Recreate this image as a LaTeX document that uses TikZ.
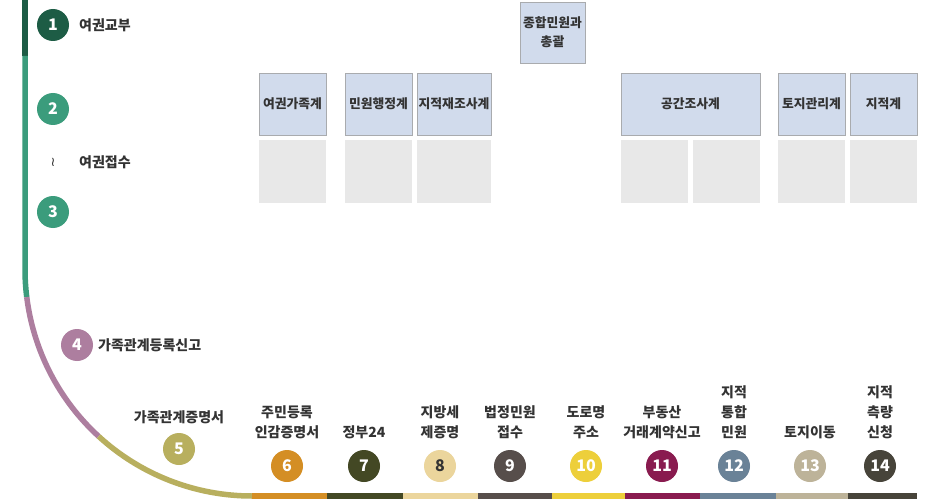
\documentclass[tikz,border=0pt]{standalone}
\usepackage{fontspec}
\setmainfont{Noto Sans CJK KR}
\newfontfamily\dvfont{DejaVu Sans}
\definecolor{cA}{HTML}{1D5C45}
\definecolor{cB}{HTML}{3B9C7C}
\definecolor{cC}{HTML}{AD7E9F}
\definecolor{cD}{HTML}{B8AF5E}
\definecolor{cE}{HTML}{D48E24}
\definecolor{cF}{HTML}{434824}
\definecolor{cG}{HTML}{EBD59C}
\definecolor{cH}{HTML}{574E4B}
\definecolor{cI}{HTML}{EDCF3B}
\definecolor{cJ}{HTML}{891B4F}
\definecolor{cK}{HTML}{6A8297}
\definecolor{cL}{HTML}{BDB399}
\definecolor{cM}{HTML}{47443A}
\definecolor{txt}{HTML}{333333}
\definecolor{boxfill}{HTML}{D1DBEC}
\definecolor{boxline}{HTML}{A9ABAE}
\definecolor{greyfill}{HTML}{E8E8E8}
\tikzset{
  num/.style={circle, fill=#1, minimum size=32pt, inner sep=0pt, text=white,
    font=\fontsize{16}{16}\selectfont\bfseries},
  lbl/.style={anchor=west, inner sep=0pt, text=txt, font=\fontsize{14}{16}\selectfont\bfseries},
  blbl/.style={anchor=south, inner sep=0pt, align=center, text depth=0pt, text=txt,
    font=\fontsize{14}{20}\selectfont\bfseries},
  team/.style={draw=boxline, line width=0.8pt, fill=boxfill, inner sep=0pt, align=center,
    text=txt, font=\fontsize{12.8}{19}\selectfont\bfseries},
  greybox/.style={fill=greyfill, inner sep=0pt},
  track/.style={line width=5.5pt},
  seg/.style={line width=6pt}
}
\begin{document}
\begin{tikzpicture}[x=1pt,y=1pt]
\useasboundingbox (0,0) rectangle (940,-500);
\fill[white] (0,0) rectangle (940,-500);
% left track
\coordinate (t0) at (25,0);
\coordinate (t1) at (25,-56);
\coordinate (t2) at (25,-269);
\draw[track, cA] (t0) -- (t1);
\draw[track, cB] (t1) -- (t2) arc[start angle=180, end angle=187.1, radius=227] coordinate (t3);
\draw[track, cC] (t3) arc[start angle=187.1, end angle=227.5, radius=227] coordinate (t4);
\draw[track, cD] (t4) arc[start angle=227.5, end angle=270, radius=227] coordinate (b0);
% bottom bar
\coordinate (b1) at (327,-496);
\coordinate (b2) at (403,-496);
\coordinate (b3) at (478,-496);
\coordinate (b4) at (552,-496);
\coordinate (b5) at (625,-496);
\coordinate (b6) at (700,-496);
\coordinate (b7) at (776,-496);
\coordinate (b8) at (848,-496);
\coordinate (b9) at (917,-496);
\draw[seg, cE] (b0) -- (b1);
\draw[seg, cF] (b1) -- (b2);
\draw[seg, cG] (b2) -- (b3);
\draw[seg, cH] (b3) -- (b4);
\draw[seg, cI] (b4) -- (b5);
\draw[seg, cJ] (b5) -- (b6);
\draw[seg, cK] (b6) -- (b7);
\draw[seg, cL] (b7) -- (b8);
\draw[seg, cM] (b8) -- (b9);
% steps on the left
\node[num=cA] (n1) at (53,-25) {1};
\node[lbl] (l1) at (79,-25) {여권교부};
\node[num=cB] (n2) at (53,-109) {2};
\node[inner sep=0pt, text=txt, font=\dvfont\fontsize{13}{13}\selectfont] (tl) at (53,-162) {≀};
\node[lbl] (l2) at (79,-162) {여권접수};
\node[num=cB] (n3) at (53,-212) {3};
\node[num=cC] (n4) at (77,-345) {4};
\node[lbl] (l4) at (98,-345) {가족관계등록신고};
\node[num=cD] (n5) at (179,-449) {5};
\node[blbl] (l5) at (179,-423) {가족관계증명서};
% bottom steps
\node[num=cE] (n6) at (287,-466) {6};
\node[num=cF] (n7) at (364,-466) {7};
\node[num=cG, text=txt] (n8) at (440,-466) {8};
\node[num=cH] (n9) at (510,-466) {9};
\node[num=cI] (n10) at (586,-466) {10};
\node[num=cJ] (n11) at (662,-466) {11};
\node[num=cK] (n12) at (734,-466) {12};
\node[num=cL] (n13) at (810,-466) {13};
\node[num=cM] (n14) at (880,-466) {14};
\node[blbl] (l6) at (287,-438) {주민등록\\인감증명서};
\node[blbl] (l7) at (364,-438) {정부24};
\node[blbl] (l8) at (440,-438) {지방세\\제증명};
\node[blbl] (l9) at (510,-438) {법정민원\\접수};
\node[blbl] (l10) at (586,-438) {도로명\\주소};
\node[blbl] (l11) at (662,-438) {부동산\\거래계약신고};
\node[blbl] (l12) at (734,-438) {지적\\통합\\민원};
\node[blbl] (l13) at (810,-438) {토지이동};
\node[blbl] (l14) at (880,-438) {지적\\측량\\신청};
% teams
\node[team, minimum width=65pt, minimum height=61pt] (h0) at (552.5,-32.5) {종합민원과\\총괄};
\node[team, minimum width=67pt, minimum height=62pt] (h1) at (292.5,-104) {여권가족계};
\node[team, minimum width=67pt, minimum height=62pt] (h2) at (378.5,-104) {민원행정계};
\node[team, minimum width=74pt, minimum height=62pt] (h3) at (454,-104) {지적재조사계};
\node[team, minimum width=139pt, minimum height=62pt] (h4) at (690.5,-104) {공간조사계};
\node[team, minimum width=67pt, minimum height=62pt] (h5) at (811.5,-104) {토지관리계};
\node[team, minimum width=67pt, minimum height=62pt] (h6) at (883.5,-104) {지적계};
\node[greybox, minimum width=67pt, minimum height=63pt] (g1) at (292.5,-171.5) {};
\node[greybox, minimum width=67pt, minimum height=63pt] (g2) at (378.5,-171.5) {};
\node[greybox, minimum width=74pt, minimum height=63pt] (g3) at (454,-171.5) {};
\node[greybox, minimum width=67pt, minimum height=63pt] (g4) at (654.5,-171.5) {};
\node[greybox, minimum width=67pt, minimum height=63pt] (g5) at (726.5,-171.5) {};
\node[greybox, minimum width=67pt, minimum height=63pt] (g6) at (811.5,-171.5) {};
\node[greybox, minimum width=67pt, minimum height=63pt] (g7) at (883.5,-171.5) {};
\end{tikzpicture}
\end{document}
